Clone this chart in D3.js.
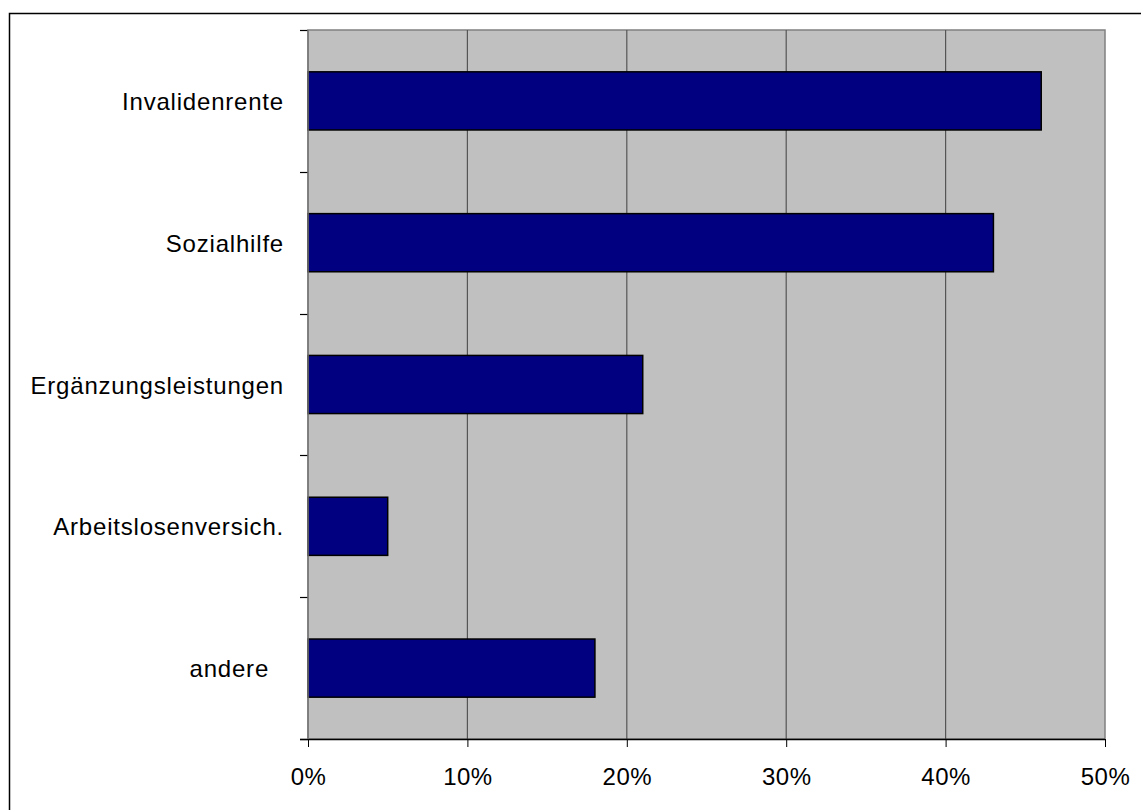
<!DOCTYPE html>
<html><head><meta charset="utf-8">
<script src="https://cdn.jsdelivr.net/npm/d3@7"></script>
<style>
html,body{margin:0;padding:0;background:#fff;}
svg{display:block;}
text{font-family:"Liberation Sans",Arial,sans-serif;fill:#000;}
</style></head>
<body>
<svg id="chart" width="1141" height="810"></svg>
<script>
const categories = ["Invalidenrente","Sozialhilfe","Ergänzungsleistungen","Arbeitslosenversich.","andere  "];
const values = [46, 43, 21, 5, 18];
const xTicks = [0, 10, 20, 30, 40, 50];

const svg = d3.select("#chart");
const plot = {left: 308, right: 1105, top: 30, bottom: 739};

// outer frame
svg.append("rect").attr("x", 9.5).attr("y", 13.5).attr("width", 1140).attr("height", 800)
  .attr("fill", "#fff").attr("stroke", "#000").attr("stroke-width", 1.5);

const x = d3.scaleLinear().domain([0, 50]).range([plot.left, plot.right]);
const y = d3.scaleBand().domain(categories).range([plot.top, plot.bottom]).paddingInner(0.59).paddingOuter(0.295);
const yTickScale = d3.scaleBand().domain(categories).range([plot.top, plot.bottom]);

// plot background
svg.append("rect").attr("x", plot.left).attr("y", plot.top)
  .attr("width", plot.right - plot.left).attr("height", plot.bottom - plot.top)
  .attr("fill", "#c0c0c0").attr("stroke", "#808080").attr("stroke-width", 1.5);

// gridlines
svg.append("g").selectAll("line").data(xTicks.slice(1, -1)).join("line")
  .attr("x1", d => x(d)).attr("x2", d => x(d))
  .attr("y1", plot.top).attr("y2", plot.bottom)
  .attr("stroke", "#555").attr("stroke-width", 1.2);

// bars
svg.append("g").selectAll("rect").data(values).join("rect")
  .attr("x", x(0)).attr("y", (d, i) => y(categories[i]))
  .attr("width", d => x(d) - x(0)).attr("height", y.bandwidth())
  .attr("fill", "#000080").attr("stroke", "#000").attr("stroke-width", 1.5);

// x axis
const xAxis = d3.axisBottom(x).tickValues(xTicks).tickFormat(d => d + "%").tickSizeInner(8).tickSizeOuter(0).tickPadding(21);
const gx = svg.append("g").attr("transform", `translate(0,${plot.bottom})`).call(xAxis);
gx.select(".domain").attr("stroke", "#000").attr("stroke-width", 1.5).attr("d", `M${plot.left - 8},0.5H${plot.right}`);
gx.selectAll(".tick line").attr("stroke", "#000").attr("stroke-width", 1);
gx.selectAll(".tick text").attr("font-size", 24).attr("font-family", "Liberation Sans, Arial, sans-serif")
  .attr("fill", "#000").style("letter-spacing", "0.5px");

// y axis ticks (category boundaries)
const bounds = categories.map(c => yTickScale(c)).concat([plot.bottom]);
svg.append("g").selectAll("line").data(bounds).join("line")
  .attr("x1", plot.left - 8).attr("x2", plot.left)
  .attr("y1", d => Math.round(d) + 0.5).attr("y2", d => Math.round(d) + 0.5)
  .attr("stroke", "#000").attr("stroke-width", 1.2);
svg.append("line").attr("x1", plot.left).attr("x2", plot.left).attr("y1", plot.top).attr("y2", plot.bottom)
  .attr("stroke", "#777").attr("stroke-width", 1.5);

// y labels
svg.append("g").selectAll("text").data(categories).join("text")
  .attr("x", plot.left - 24)
  .attr("y", d => y(d) + y.bandwidth() / 2 + 9)
  .attr("text-anchor", "end").attr("font-size", 24)
  .style("letter-spacing", "0.8px")
  .style("white-space", "pre")
  .text(d => d);
</script>
</body></html>
